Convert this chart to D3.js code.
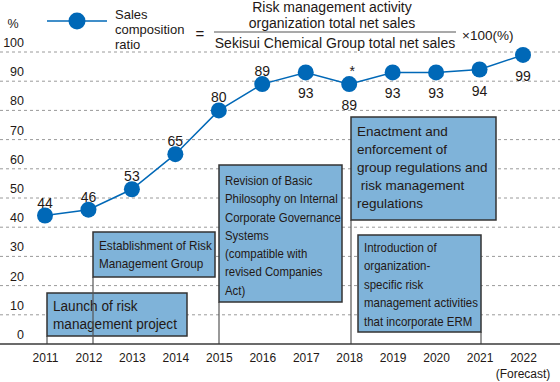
<!DOCTYPE html>
<html>
<head>
<meta charset="utf-8">
<title>Sales composition ratio</title>
<script src="https://cdn.jsdelivr.net/npm/d3@7"></script>
<style>
	body { margin: 0; background: #fff; }
	svg text { font-family: "Liberation Sans", Arial, sans-serif; fill: #231815; }
	.grid { stroke: #9a9a9a; stroke-dasharray: 3,3; stroke-width: 1; }
	.axisline { stroke: #3a3a3a; stroke-width: 1.5; }
	.series { fill: none; stroke: #0068b7; stroke-width: 1.5; }
	.dot { fill: #0068b7; }
	.box { fill: #7fb3d9; stroke: #333; stroke-width: 1.5; }
	.leader { stroke: #555; stroke-width: 1.2; }
</style>
</head>
<body>
<div id="chart"></div>
<script>
var width = 560, height = 382;

// data
var years  = [2011, 2012, 2013, 2014, 2015, 2016, 2017, 2018, 2019, 2020, 2021, 2022];
var ratios = [44, 46, 53, 65, 80, 89, 93, 89, 93, 93, 94, 99];
var yTicks = [0, 10, 20, 30, 40, 50, 60, 70, 80, 90, 100];
var yearLabels = ["2011","2012","2013","2014","2015","2016","2017","2018","2019","2020","2021","2022"];
var labelBelow = [false, false, false, false, false, false, true, true, true, true, true, true];

var events = [
	{ year: 2011, text: ["Launch of risk", "management project"] },
	{ year: 2012, text: ["Establishment of Risk", "Management Group"] },
	{ year: 2015, text: ["Revision of Basic", "Philosophy on Internal", "Corporate Governance", "Systems", "(compatible with", "revised Companies", "Act)"] },
	{ year: 2018, text: ["Enactment and", "enforcement of", "group regulations and", " risk management", "regulations"] },
	{ year: 2021, text: ["Introduction of", "organization-", "specific risk", "management activities", "that incorporate ERM"] }
];

// box layout (pixels); tw = width of the widest line, text squeezed to fit like the condensed original
var boxLayout = [
	{ x0: 47,  x1: 187, y0: 293, y1: 336, fs: 14,   lh: 18,   ty: 311, tw: 124, side: "left" },
	{ x0: 93,  x1: 215, y0: 232, y1: 277, fs: 13,   lh: 18,   ty: 250, tw: 113, side: "left" },
	{ x0: 219, x1: 342, y0: 165, y1: 302, fs: 13.5, lh: 18.3, ty: 185, tw: 116, side: "left" },
	{ x0: 351, x1: 496, y0: 117, y1: 220, fs: 13.5, lh: 18,   ty: 136, tw: 131, side: "left" },
	{ x0: 358, x1: 481, y0: 235, y1: 332, fs: 13,   lh: 18.5, ty: 252, tw: 114, side: "right" }
];

var svg = d3.select("#chart").append("svg")
	.attr("width", width)
	.attr("height", height);

var x = d3.scalePoint().domain(years).range([45, 523]);
var y = d3.scaleLinear().domain([0, 100]).range([344, 52]);

// gridlines
svg.selectAll(".grid").data(yTicks.filter(function(d) { return d > 0; }))
	.enter().append("line")
	.attr("class", "grid")
	.attr("x1", 0).attr("x2", width)
	.attr("y1", function(d) { return y(d); })
	.attr("y2", function(d) { return y(d); });

// y labels sit above their gridline
svg.selectAll(".ylab").data(yTicks)
	.enter().append("text")
	.attr("x", 24)
	.attr("y", function(d) { return y(d) - 5; })
	.attr("text-anchor", "end")
	.style("font-size", "12.5px")
	.text(function(d) { return d; });

svg.append("text")
	.attr("x", 13).attr("y", 28)
	.attr("text-anchor", "middle")
	.style("font-size", "12.5px")
	.text("%");

// leaders and boxes
events.forEach(function(e, i) {
	var b = boxLayout[i];
	var lx = b.side == "left" ? b.x0 : b.x1;
	svg.append("line")
		.attr("class", "leader")
		.attr("x1", lx).attr("x2", lx)
		.attr("y1", b.y1).attr("y2", y(0));
	svg.append("rect")
		.attr("class", "box")
		.attr("x", b.x0).attr("y", b.y0)
		.attr("width", b.x1 - b.x0).attr("height", b.y1 - b.y0);
	var g = svg.append("g");
	var t = g.append("text")
		.style("font-size", b.fs + "px")
		.attr("xml:space", "preserve");
	e.text.forEach(function(line, k) {
		t.append("tspan")
			.attr("x", 0)
			.attr("y", b.ty + k * b.lh)
			.text(line);
	});
	var maxW = d3.max(t.selectAll("tspan").nodes(), function(n) { return n.getComputedTextLength(); });
	var sx = Math.min(1, b.tw / maxW);
	g.attr("transform", "translate(" + (b.x0 + 6) + ",0) scale(" + sx + ",1)");
});

// x axis
svg.append("line")
	.attr("class", "axisline")
	.attr("x1", 0).attr("x2", width)
	.attr("y1", y(0)).attr("y2", y(0));

var xAxis = d3.axisBottom(x)
	.tickSize(0)
	.tickPadding(0)
	.tickFormat(function(d, i) { return yearLabels[i]; });

var gx = svg.append("g")
	.attr("transform", "translate(0," + 353 + ")")
	.call(xAxis);
gx.select(".domain").remove();
gx.selectAll("text")
	.style("font-size", "12px")
	.style("font-family", "'Liberation Sans', Arial, sans-serif")
	.attr("fill", "#231815");

svg.append("text")
	.attr("x", x(2022)).attr("y", 378)
	.attr("text-anchor", "middle")
	.style("font-size", "12px")
	.text("(Forecast)");

// series
var pts = years.map(function(d, i) { return [x(d), y(ratios[i])]; });

svg.append("path")
	.attr("class", "series")
	.attr("d", d3.line()(pts));

svg.selectAll(".dot").data(years)
	.enter().append("circle")
	.attr("class", "dot")
	.attr("cx", function(d) { return x(d); })
	.attr("cy", function(d, i) { return y(ratios[i]); })
	.attr("r", 8);

svg.selectAll(".vlab").data(years)
	.enter().append("text")
	.attr("x", function(d) { return x(d); })
	.attr("y", function(d, i) { return y(ratios[i]) + (labelBelow[i] ? 26 : -8); })
	.attr("text-anchor", "middle")
	.style("font-size", "14px")
	.text(function(d, i) { return ratios[i]; });

svg.append("text")
	.attr("x", x(2018) + 3).attr("y", y(89) - 8)
	.attr("text-anchor", "middle")
	.style("font-size", "14px")
	.text("*");

// legend
svg.append("line")
	.attr("class", "series")
	.attr("x1", 47).attr("x2", 107)
	.attr("y1", 21).attr("y2", 21);
svg.append("circle")
	.attr("class", "dot")
	.attr("cx", 77).attr("cy", 21).attr("r", 8.5);

var leg = svg.append("text").style("font-size", "13px");
["Sales", "composition", "ratio"].forEach(function(s, k) {
	leg.append("tspan").attr("x", 115).attr("y", 19 + k * 15).text(s);
});

svg.append("text")
	.attr("x", 200).attr("y", 39)
	.attr("text-anchor", "middle")
	.style("font-size", "15px")
	.text("=");

var fx = 332;
svg.append("text")
	.attr("x", fx).attr("y", 12)
	.attr("text-anchor", "middle")
	.style("font-size", "14px")
	.text("Risk management activity");
svg.append("text")
	.attr("x", fx).attr("y", 28)
	.attr("text-anchor", "middle")
	.style("font-size", "14px")
	.text("organization total net sales");
svg.append("line")
	.attr("x1", 214).attr("x2", 456)
	.attr("y1", 32).attr("y2", 32)
	.attr("stroke", "#555").attr("stroke-width", 1.2);
svg.append("text")
	.attr("x", 335).attr("y", 48)
	.attr("text-anchor", "middle")
	.style("font-size", "14px")
	.text("Sekisui Chemical Group total net sales");
svg.append("text")
	.attr("x", 462).attr("y", 40)
	.style("font-size", "13.5px")
	.text("\u00d7100(%)");
</script>
</body>
</html>
